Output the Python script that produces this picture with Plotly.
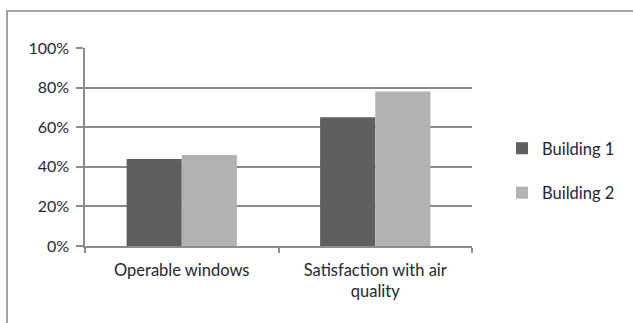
import plotly.graph_objects as go

categories = ["Operable windows", "Satisfaction with air<br>quality"]
building1 = [0.44, 0.65]
building2 = [0.46, 0.78]
series_names = ["Building 1", "Building 2"]
colors = ["#5f5f5f", "#b2b2b2"]

W, H = 633, 323
L, R, T, B = 85, 161, 48, 77
plot_w = W - L - R
plot_h = H - T - B


def px_x(p):
    return (p - L) / plot_w


def px_y(p):
    return (H - B - p) / plot_h


fig = go.Figure()
for name, vals, col, grp in zip(series_names, [building1, building2], colors, ["g1", "g2"]):
    fig.add_trace(go.Bar(
        x=categories, y=vals, name=name, legendgroup=grp,
        marker=dict(color=col, line=dict(width=0)),
    ))

font_family = "Lato, 'Open Sans', sans-serif"
text_color = "#262633"

fig.update_layout(
    width=W, height=H,
    margin=dict(l=L, r=R, t=T, b=B, pad=0),
    paper_bgcolor="white", plot_bgcolor="white",
    barmode="group", bargap=0.43, bargroupgap=0,
    font=dict(family=font_family, size=16, color=text_color),
    showlegend=True,
    legend=dict(
        x=px_x(502), y=px_y(131), xanchor="left", yanchor="top",
        traceorder="grouped", tracegroupgap=20,
        font=dict(size=16.5, color=text_color),
        bgcolor="rgba(0,0,0,0)",
        itemwidth=30,
    ),
    xaxis=dict(
        showgrid=False, showline=True, linecolor="#8c8c8c", linewidth=1.5,
        ticks="outside", ticklen=5, tickcolor="#8c8c8c", tickwidth=1.5,
        tickson="boundaries", ticklabelstandoff=8,
        tickfont=dict(size=16.5, color=text_color),
    ),
    yaxis=dict(
        range=[0, 1], dtick=0.2, tickformat=".0%",
        showgrid=True, gridcolor="#8a8a8a", gridwidth=1.6,
        showline=True, linecolor="#8c8c8c", linewidth=1.5,
        ticks="outside", ticklen=7, tickcolor="#8c8c8c", tickwidth=1.5,
        ticklabelstandoff=4,
        tickfont=dict(size=16, color=text_color),
        zeroline=False,
    ),
    shapes=[
        dict(type="rect", xref="paper", yref="paper",
             x0=px_x(7), x1=px_x(645), y0=px_y(335), y1=px_y(11),
             line=dict(color="#a3a3a3", width=2), fillcolor="rgba(0,0,0,0)",
             layer="below"),
    ],
)

fig.write_html("out.html")
